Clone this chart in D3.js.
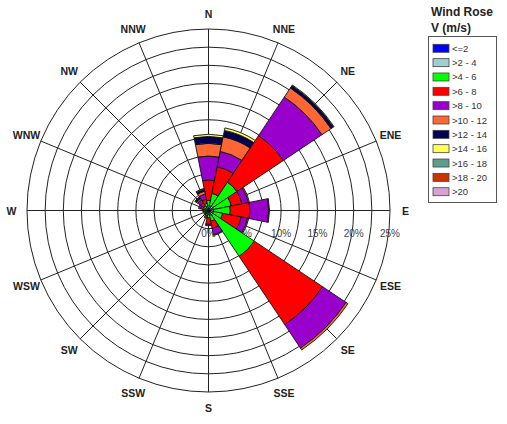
<!DOCTYPE html>
<html>
<head>
<meta charset="utf-8">
<script src="https://d3js.org/d3.v7.min.js"></script>
<style>
body { margin: 0; background: #fff; }
svg { display: block; font-family: "Liberation Sans", Arial, sans-serif; }
</style>
</head>
<body>
<div id="chart"></div>
<script>
var directions = ["N", "NNE", "NE", "ENE", "E", "ESE", "SE", "SSE", "S", "SSW", "SW", "WSW", "W", "WNW", "NW", "NNW"];
var speedBins = ["<=2", ">2 - 4", ">4 - 6", ">6 - 8", ">8 - 10", ">10 - 12", ">12 - 14", ">14 - 16", ">16 - 18", ">18 - 20", ">20"];
var binColors = ["#0000ff", "#9fcfd2", "#00ff00", "#ff0000", "#9900cc", "#ff6633", "#000055", "#ffff55", "#5f9c8e", "#cc3300", "#d6a2d6"];
var radialTicks = [0, 5, 10, 15, 20, 25];

// frequency (%) per direction, N .. NNW, one array per speed bin
var bin0_2   = [0.3, 0.3, 0.3, 0.3, 0.3, 0.3, 0.3, 0.3, 0.3, 0.2, 0.2, 0.2, 0.2, 0.2, 0.2, 0.3];
var bin2_4   = [0.4, 0.4, 0.4, 0.4, 0.4, 0.4, 0.4, 0.4, 0.3, 0.3, 0.2, 0.2, 0.3, 0.3, 0.3, 0.3];
var bin4_6   = [0.7, 1.7, 4.0, 2.5, 2.3, 1.3, 6.9, 0.8, 0.4, 0.3, 0.2, 0.2, 0.2, 0.3, 0.3, 0.4];
var bin6_8   = [2.8, 3.75, 7.7, 1.5, 2.7, 2.6, 11.3, 1.0, 0.9, 0.3, 0.2, 0.0, 0.1, 0.3, 0.5, 0.6];
var bin8_10  = [3.3, 2.15, 6.4, 0.9, 2.6, 0.9, 3.9, 0.9, 0.2, 0.0, 0.0, 0.0, 0.0, 0.3, 0.5, 0.7];
var bin10_12 = [1.75, 2.05, 1.5, 0.15, 0.1, 0.15, 0.3, 0.1, 0.0, 0.0, 0.0, 0.0, 0.0, 0.0, 0.2, 0.4];
var bin12_14 = [0.95, 0.9, 0.4, 0.0, 0.0, 0.0, 0.0, 0.0, 0.0, 0.0, 0.0, 0.0, 0.0, 0.0, 0.2, 0.3];
var bin14_16 = [0.3, 0.35, 0.1, 0.0, 0.0, 0.0, 0.0, 0.0, 0.0, 0.0, 0.0, 0.0, 0.0, 0.0, 0.05, 0.1];
var bin16_18 = [0, 0, 0, 0, 0, 0, 0, 0, 0, 0, 0, 0, 0, 0, 0, 0];
var bin18_20 = [0, 0, 0, 0, 0, 0, 0, 0, 0, 0, 0, 0, 0, 0, 0, 0];
var bin20    = [0, 0, 0, 0, 0, 0, 0, 0, 0, 0, 0, 0, 0, 0, 0, 0];

var binValues = [bin0_2, bin2_4, bin4_6, bin6_8, bin8_10, bin10_12, bin12_14, bin14_16, bin16_18, bin18_20, bin20];

var width = 507, height = 424
var cx = 208.5, cy = 210.5, outerR = 181.5

var svg = d3.select('#chart')
    .append('svg')
    .attr('width', width)
    .attr('height', height)

var scaleR = d3.scaleLinear()
    .domain([0, 25])
    .range([0, outerR])

var step = 2 * Math.PI / directions.length

var g = svg.append('g')
    .attr('transform', 'translate(' + cx + ',' + cy + ')')

// grid rings every 2.5 %
g.selectAll('circle.ring')
    .data(d3.range(2.5, 25.01, 2.5))
    .enter()
    .append('circle')
    .attr('class', 'ring')
    .attr('r', function(d) { return scaleR(d) })
    .attr('fill', 'none')
    .attr('stroke', '#222')
    .attr('stroke-width', 1)

g.selectAll('line.spoke')
    .data(directions)
    .enter()
    .append('line')
    .attr('class', 'spoke')
    .attr('x1', 0)
    .attr('y1', 0)
    .attr('x2', function(d, i) { return outerR * Math.sin(i * step) })
    .attr('y2', function(d, i) { return -outerR * Math.cos(i * step) })
    .attr('stroke', '#222')
    .attr('stroke-width', 1)

g.selectAll('text.dir')
    .data(directions)
    .enter()
    .append('text')
    .attr('class', 'dir')
    .attr('x', function(d, i) { return 197 * Math.sin(i * step) })
    .attr('y', function(d, i) { return -197 * Math.cos(i * step) })
    .attr('text-anchor', 'middle')
    .attr('dominant-baseline', 'central')
    .style('font-size', '10.5px')
    .style('font-weight', 'bold')
    .style('fill', '#222')
    .text(function(d) { return d })

g.selectAll('text.pct')
    .data(radialTicks)
    .enter()
    .append('text')
    .attr('class', 'pct')
    .attr('x', function(d) { return scaleR(d) })
    .attr('y', 23)
    .attr('text-anchor', 'middle')
    .attr('dominant-baseline', 'central')
    .style('font-size', '10px')
    .style('fill', '#444')
    .text(function(d) { return d + '%' })

// stacked petals
var petals = []
directions.forEach(function(dir, i) {
    var cum = 0
    binValues.forEach(function(vals, b) {
        var v = vals[i]
        if (v > 0) {
            petals.push({ dir: i, bin: b, r0: cum, r1: cum + v })
        }
        cum += v
    })
})

var arc = d3.arc()
    .innerRadius(function(d) { return scaleR(d.r0) })
    .outerRadius(function(d) { return scaleR(d.r1) })
    .startAngle(function(d) { return d.dir * step - step / 2 })
    .endAngle(function(d) { return d.dir * step + step / 2 })

g.selectAll('path.petal')
    .data(petals)
    .enter()
    .append('path')
    .attr('class', 'petal')
    .attr('d', arc)
    .style('fill', function(d) { return binColors[d.bin] })
    .style('stroke', '#111')
    .style('stroke-width', 0.9)

// legend
var legend = svg.append('g')

legend.append('text')
    .attr('x', 431)
    .attr('y', 16)
    .style('font-size', '12px')
    .style('font-weight', 'bold')
    .style('fill', '#222')
    .text('Wind Rose')

legend.append('text')
    .attr('x', 431)
    .attr('y', 32)
    .style('font-size', '12px')
    .style('font-weight', 'bold')
    .style('fill', '#222')
    .text('V (m/s)')

legend.append('rect')
    .attr('x', 428.5)
    .attr('y', 36.5)
    .attr('width', 68)
    .attr('height', 166)
    .attr('fill', '#fff')
    .attr('stroke', '#555')

var rowY = d3.scaleLinear()
    .domain([0, speedBins.length - 1])
    .range([48.3, 191.7])

var rows = legend.selectAll('g.row')
    .data(speedBins)
    .enter()
    .append('g')
    .attr('class', 'row')
    .attr('transform', function(d, i) { return 'translate(0,' + rowY(i) + ')' })

rows.append('rect')
    .attr('x', 433)
    .attr('y', -4)
    .attr('width', 16)
    .attr('height', 8)
    .style('fill', function(d, i) { return binColors[i] })
    .style('stroke', '#444')
    .style('stroke-width', 0.8)

rows.append('text')
    .attr('x', 452)
    .attr('y', 0)
    .attr('dominant-baseline', 'central')
    .style('font-size', '9.5px')
    .style('fill', '#333')
    .text(function(d) { return d })
</script>
</body>
</html>
